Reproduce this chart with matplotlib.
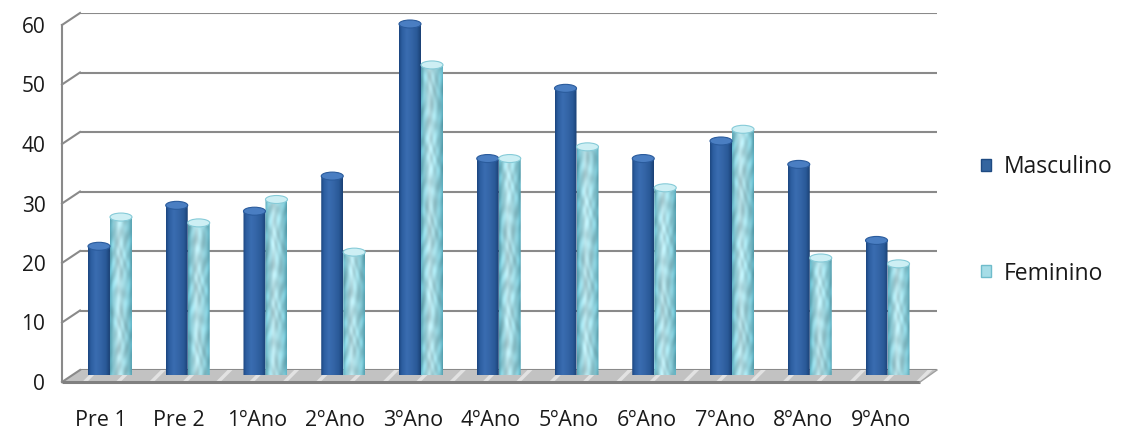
import numpy as np
import matplotlib
matplotlib.use("Agg")
import matplotlib.pyplot as plt
from matplotlib.patches import Ellipse, Polygon, PathPatch, Rectangle
from matplotlib.path import Path
from matplotlib.colors import to_rgb

plt.rcParams['font.family'] = ['Open Sans', 'DejaVu Sans']
plt.rcParams['hatch.linewidth'] = 2.5

# ---- data ----
categories = ["Pre 1", "Pre 2", "1ºAno", "2ºAno", "3ºAno", "4ºAno",
              "5ºAno", "6ºAno", "7ºAno", "8ºAno", "9ºAno"]
masculino = [22, 29, 28, 34, 60, 37, 49, 37, 40, 36, 23]
feminino = [27, 26, 30, 21, 53, 37, 39, 32, 42, 20, 19]
series_names = ["Masculino", "Feminino"]
y_ticks = [0, 10, 20, 30, 40, 50, 60]

W, H = 1125, 429
fig = plt.figure(figsize=(W / 100, H / 100), dpi=100)
fig.patch.set_facecolor('white')


def px_axes(left, right, top, bottom):
    ax = fig.add_axes([left / W, 1 - bottom / H, (right - left) / W, (bottom - top) / H])
    ax.set_xlim(-0.5, len(categories) - 0.5)
    ax.set_ylim(0, 60)
    ax.patch.set_visible(False)
    for s in ax.spines.values():
        s.set_visible(False)
    return ax


# three planes of the pseudo-3D box: back wall, front edge, bar plane
ax_back = px_axes(80, 937, 13, 370)
ax_front = px_axes(62, 920, 25, 382)
ax_bar = px_axes(71.1, 926.4, 24, 375)
ax_back.set_zorder(1)
ax_front.set_zorder(2)
ax_bar.set_zorder(3)
ax_back.set_xticks([])
ax_back.set_yticks([])
ax_bar.set_xticks([])
ax_bar.set_yticks([])

grid_col = '#8a8a8a'
n = len(categories)
xmin, xmax = -0.5, n - 0.5

# back wall gridlines
for v in y_ticks:
    ax_back.plot([xmin, xmax], [v, v], color=grid_col, lw=1.5, solid_capstyle='butt')


def back_to_front(x, y):
    disp = ax_back.transData.transform((x, y))
    return ax_front.transData.inverted().transform(disp)


# left wall: front edge and diagonals to the back wall
ax_front.plot([xmin, xmin], [0, 60], color=grid_col, lw=1.5, clip_on=False)
for v in y_ticks:
    bx, by = back_to_front(xmin, v)
    ax_front.plot([xmin, bx], [v, by], color=grid_col, lw=1.5, clip_on=False)

# floor
bl = back_to_front(xmin, 0)
br = back_to_front(xmax, 0)
floor = Polygon([(xmin, 0), bl, br, (xmax, 0)], closed=True,
                facecolor='#c2c2c2', edgecolor='#e2e2e2', hatch='/',
                lw=0, clip_on=False)
ax_front.add_patch(floor)
ax_front.plot([xmin, xmax], [0, 0], color='#808080', lw=2.2, clip_on=False,
              solid_capstyle='butt')
ax_front.plot([xmax, br[0]], [0, br[1]], color='#a0a0a0', lw=1.0, clip_on=False)

# axis labels on the front plane
ax_front.set_yticks(y_ticks)
ax_front.set_yticklabels([str(v) for v in y_ticks])
ax_front.set_xticks(np.arange(n))
ax_front.set_xticklabels(categories)
ax_front.tick_params(axis='both', length=0, labelcolor='#1a1a1a')
ax_front.tick_params(axis='y', pad=12, labelsize=15)
ax_front.tick_params(axis='x', pad=20, labelsize=15.5)

# ---- cylinders ----
x = np.arange(n)
px_per_x = (926.4 - 71.1) / n
px_per_y = (375 - 24) / 60.0
bw = 22 / px_per_x
eh = 8 / px_per_y


def ramp(stops, npts):
    pos = np.array([p for p, _ in stops])
    cols = np.array([to_rgb(c) for _, c in stops])
    t = np.linspace(0, 1, npts)
    return np.stack([np.interp(t, pos, cols[:, k]) for k in range(3)], axis=1)


male_stops = [(0.0, '#1c4680'), (0.12, '#2c5d9f'), (0.35, '#3a6db1'),
              (0.55, '#3566a8'), (0.82, '#2a5a98'), (1.0, '#1a4175')]
female_stops = [(0.0, '#5fb2c4'), (0.14, '#90d3df'), (0.38, '#bfeaf1'),
                (0.62, '#a7dfe8'), (0.86, '#84cbd8'), (1.0, '#5caebf')]


def draw_cylinder(ax, rect, stops, cap_face, cap_edge, textured):
    x0, w, h = rect.get_x(), rect.get_width(), rect.get_height()
    xc = x0 + w / 2
    nx = 44
    ny = max(int((h + eh) * px_per_y * 2), 4)
    row = ramp(stops, nx)
    img = np.repeat(row[None, :, :], ny, axis=0)
    if textured:
        yy, xx = np.mgrid[0:ny, 0:nx].astype(float)
        yy += xc * 53.0
        pat = (np.sin(xx * 0.21 + 2.6 * np.sin(yy * 0.045 + xx * 0.05))
               * np.cos(yy * 0.07 - 1.9 * np.sin(xx * 0.13))
               + 0.5 * np.sin(xx * 0.4 - yy * 0.11 + 1.5 * np.cos(yy * 0.03)))
        img = np.clip(img * (1 - 0.045 + 0.075 * pat[..., None]), 0, 1)
    im = ax.imshow(img, extent=[x0, x0 + w, -eh / 2, h], origin='lower',
                   aspect='auto', interpolation='bilinear', zorder=2)
    t = np.linspace(np.pi, 2 * np.pi, 40)
    verts = [(x0, h), (x0, 0)]
    verts += list(zip(xc + w / 2 * np.cos(t), eh / 2 * np.sin(t)))
    verts += [(x0 + w, h), (x0, h)]
    clip = PathPatch(Path(verts, closed=True), transform=ax.transData,
                     facecolor='none', edgecolor='none')
    ax.add_patch(clip)
    im.set_clip_path(clip)
    ax.add_patch(Ellipse((xc, h), w, eh, facecolor=cap_face,
                         edgecolor=cap_edge, lw=0.8, zorder=3, clip_on=False))


bars_m = ax_bar.bar(x - bw / 2, masculino, bw, facecolor='none', edgecolor='none')
bars_f = ax_bar.bar(x + bw / 2, feminino, bw, facecolor='none', edgecolor='none')
for r in bars_m:
    draw_cylinder(ax_bar, r, male_stops, '#4a7ec2', '#2a5b9c', False)
for r in bars_f:
    draw_cylinder(ax_bar, r, female_stops, '#cdeff4', '#86cbd8', True)
ax_bar.set_xlim(xmin, xmax)
ax_bar.set_ylim(0, 60)

# ---- legend ----
handles = [Rectangle((0, 0), 1, 1, facecolor='#34659f', edgecolor='#1e4a82'),
           Rectangle((0, 0), 1, 1, facecolor='#a6dde7', edgecolor='#6fbccb')]
fig.legend(handles, series_names, loc='upper left',
           bbox_to_anchor=(981 / W, 1 - 155 / H), frameon=False,
           fontsize=16.5, handlelength=0.45, handleheight=0.45,
           handletextpad=0.55, labelspacing=3.6, borderpad=0, borderaxespad=0,
           labelcolor='#1a1a1a')

fig.savefig('out.png', dpi=100)
